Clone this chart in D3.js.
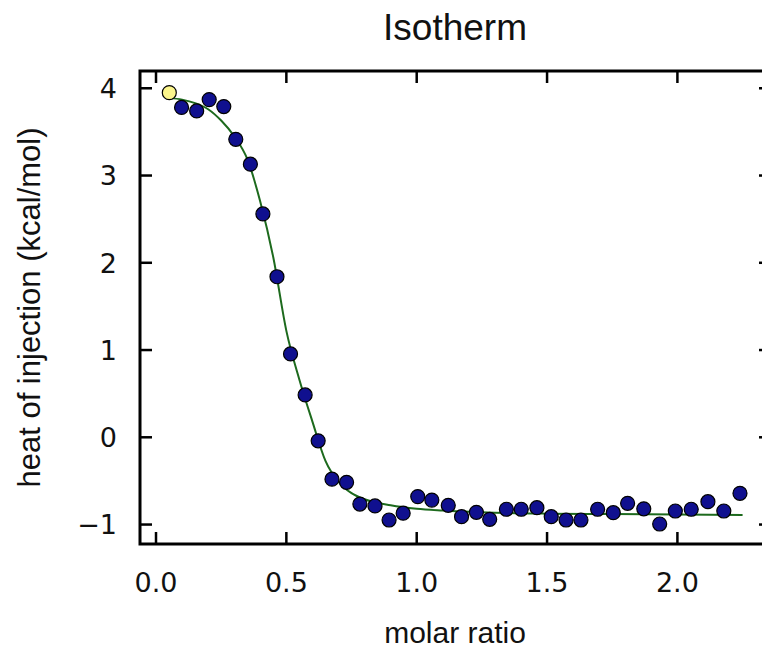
<!DOCTYPE html>
<html>
<head>
<meta charset="utf-8">
<script src="https://cdn.jsdelivr.net/npm/d3@7"></script>
<style>
  html, body { margin: 0; padding: 0; background: #fff; overflow: hidden; }
  svg { display: block; }
</style>
</head>
<body>
<div id="chart"></div>
<script>
// molar ratio of each injection (x) and heat of injection (kcal/mol)
const molarRatio = [0.051, 0.098, 0.156, 0.204, 0.260, 0.306, 0.362, 0.410, 0.464, 0.516,
  0.572, 0.622, 0.675, 0.731, 0.782, 0.840, 0.894, 0.948, 1.004, 1.058,
  1.121, 1.172, 1.229, 1.280, 1.344, 1.401, 1.461, 1.516, 1.573, 1.630,
  1.694, 1.754, 1.809, 1.871, 1.932, 1.992, 2.053, 2.117, 2.178, 2.240];
const heat = [3.95, 3.78, 3.74, 3.87, 3.79, 3.415, 3.13, 2.56, 1.84, 0.955,
  0.485, -0.04, -0.48, -0.516, -0.765, -0.787, -0.948, -0.87, -0.68, -0.72,
  -0.78, -0.91, -0.86, -0.94, -0.825, -0.825, -0.807, -0.91, -0.948, -0.948,
  -0.825, -0.864, -0.757, -0.82, -0.994, -0.845, -0.825, -0.738, -0.845, -0.642];
// first injection is excluded from the fit (drawn yellow)
const excluded = [0];

// fitted curve
const fitX = [0.05, 0.10, 0.15, 0.20, 0.25, 0.30, 0.35, 0.40, 0.45, 0.50, 0.55, 0.60,
  0.65, 0.70, 0.75, 0.80, 0.90, 1.00, 1.10, 1.25, 1.50, 1.75, 2.00, 2.25];
const fitY = [3.89, 3.87, 3.83, 3.76, 3.63, 3.45, 3.19, 2.70, 2.06, 1.22, 0.66, 0.18,
  -0.27, -0.51, -0.64, -0.71, -0.78, -0.82, -0.84, -0.86, -0.875, -0.88, -0.885, -0.89];

const xTicks = [0.0, 0.5, 1.0, 1.5, 2.0];
const yTicks = [-1, 0, 1, 2, 3, 4];

const width = 762, height = 649;
// the right spine sits just past the edge of the picture
const plot = { left: 140, right: 771, top: 71, bottom: 544 };

const svg = d3.select("#chart").append("svg")
  .attr("width", width)
  .attr("height", height);

const x = d3.scaleLinear().domain([-0.0614, 2.359]).range([plot.left, plot.right]);
const y = d3.scaleLinear().domain([-1.223, 4.198]).range([plot.bottom, plot.top]);

// fit line
const fit = fitX.map((d, i) => [d, fitY[i]]);
svg.append("path")
  .datum(fit)
  .attr("fill", "none")
  .attr("stroke", "#1d6a1d")
  .attr("stroke-width", 2)
  .attr("d", d3.line().x(d => x(d[0])).y(d => y(d[1])).curve(d3.curveMonotoneX));

// data points
const pts = molarRatio.map((d, i) => ({ x: d, y: heat[i], out: excluded.includes(i) }));
svg.append("g").selectAll("circle")
  .data(pts)
  .join("circle")
  .attr("cx", d => x(d.x))
  .attr("cy", d => y(d.y))
  .attr("r", 7)
  .attr("fill", d => d.out ? "#fbf58c" : "#10108f")
  .attr("stroke", "#000")
  .attr("stroke-width", 1.2);

// frame
svg.append("rect")
  .attr("x", plot.left)
  .attr("y", plot.top)
  .attr("width", plot.right - plot.left)
  .attr("height", plot.bottom - plot.top)
  .attr("fill", "none")
  .attr("stroke", "#000")
  .attr("stroke-width", 3);

// inward ticks on all four sides
const tickLen = 12;
const ticks = svg.append("g").attr("stroke", "#000").attr("stroke-width", 2.5);
ticks.selectAll(".xb").data(xTicks).join("line")
  .attr("x1", d => x(d)).attr("x2", d => x(d))
  .attr("y1", plot.bottom).attr("y2", plot.bottom - tickLen);
ticks.selectAll(".xt").data(xTicks).join("line")
  .attr("x1", d => x(d)).attr("x2", d => x(d))
  .attr("y1", plot.top).attr("y2", plot.top + tickLen);
ticks.selectAll(".yl").data(yTicks).join("line")
  .attr("x1", plot.left).attr("x2", plot.left + tickLen)
  .attr("y1", d => y(d)).attr("y2", d => y(d));
ticks.selectAll(".yr").data(yTicks).join("line")
  .attr("x1", plot.right).attr("x2", plot.right - tickLen)
  .attr("y1", d => y(d)).attr("y2", d => y(d));

// tick labels
const tickFont = "'DejaVu Sans', sans-serif";
svg.append("g").selectAll("text")
  .data(xTicks)
  .join("text")
  .attr("x", d => x(d))
  .attr("y", 592)
  .attr("text-anchor", "middle")
  .attr("font-family", tickFont)
  .attr("font-size", 27)
  .attr("fill", "#111")
  .text(d3.format(".1f"));

svg.append("g").selectAll("text")
  .data(yTicks)
  .join("text")
  .attr("x", 117)
  .attr("y", d => y(d))
  .attr("dy", "0.36em")
  .attr("text-anchor", "end")
  .attr("font-family", tickFont)
  .attr("font-size", 27)
  .attr("fill", "#111")
  .text(d3.format("d"));

// titles
const labelFont = "'Liberation Sans', Arial, sans-serif";
svg.append("text")
  .attr("x", 455)
  .attr("y", 40)
  .attr("text-anchor", "middle")
  .attr("font-family", labelFont)
  .attr("font-size", 37)
  .attr("fill", "#111")
  .text("Isotherm");

svg.append("text")
  .attr("x", 455)
  .attr("y", 643)
  .attr("text-anchor", "middle")
  .attr("font-family", labelFont)
  .attr("font-size", 30)
  .attr("fill", "#111")
  .text("molar ratio");

svg.append("text")
  .attr("transform", `translate(40, ${(plot.top + plot.bottom) / 2}) rotate(-90)`)
  .attr("text-anchor", "middle")
  .attr("font-family", labelFont)
  .attr("font-size", 31)
  .attr("fill", "#111")
  .text("heat of injection (kcal/mol)");
</script>
</body>
</html>
